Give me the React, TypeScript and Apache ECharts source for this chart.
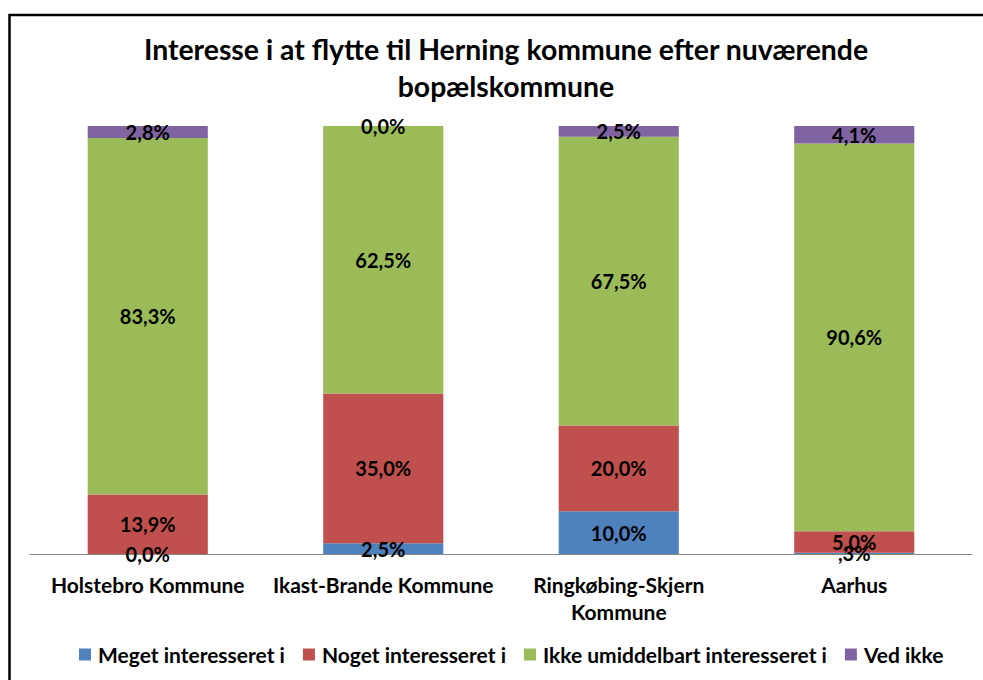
import React, { useEffect, useRef } from "react";
import * as echarts from "echarts";

const categories = [
  "Holstebro Kommune",
  "Ikast-Brande Kommune",
  "Ringkøbing-Skjern\nKommune",
  "Aarhus",
];
const seriesNames = [
  "Meget interesseret i",
  "Noget interesseret i",
  "Ikke umiddelbart interesseret i",
  "Ved ikke",
];
const meget = [0.0, 2.5, 10.0, 0.3];
const noget = [13.9, 35.0, 20.0, 5.0];
const ikke = [83.3, 62.5, 67.5, 90.6];
const vedIkke = [2.8, 0.0, 2.5, 4.1];
const colors = ["#4F81BD", "#C0504D", "#9BBB59", "#8064A2"];

const FONT = "Lato, 'Open Sans', sans-serif";

function fmt(v: number): string {
  let s = v.toFixed(1).replace(".", ",");
  if (v > 0 && v < 1) s = s.replace(/^0/, "");
  return s + "%";
}

export default function App() {
  const ref = useRef<HTMLDivElement>(null);
  useEffect(() => {
    if (!ref.current) return;
    const chart = echarts.init(ref.current, null, { renderer: "svg" });
    const data = [meget, noget, ikke, vedIkke];
    chart.setOption({
      animation: false,
      backgroundColor: "#fff",
      title: {
        text: "Interesse i at flytte til Herning kommune efter nuværende\nbopælskommune",
        left: 501,
        textAlign: "center",
        top: 25,
        textStyle: {
          fontFamily: FONT,
          fontWeight: "bold",
          fontSize: 28.4,
          lineHeight: 37,
          color: "#000",
        },
      },
      graphic: [
        {
          type: "rect",
          shape: { x: 9.5, y: 15, width: 1000, height: 700 },
          style: { fill: "none", stroke: "#000", lineWidth: 2.5 },
          silent: true,
        },
      ],
      legend: {
        bottom: 10,
        left: 74,
        icon: "rect",
        itemWidth: 12,
        itemHeight: 12,
        itemGap: 18,
        textStyle: {
          fontFamily: FONT,
          fontWeight: "bold",
          fontSize: 21,
          color: "#000",
          padding: [0, 0, 0, 2],
        },
        data: seriesNames,
      },
      grid: { left: 30, right: 11, top: 126, bottom: 126, containLabel: false },
      xAxis: {
        type: "category",
        data: categories,
        axisLine: { lineStyle: { color: "#868686", width: 1 } },
        axisTick: { show: false },
        axisLabel: {
          fontFamily: FONT,
          fontWeight: "bold",
          fontSize: 21,
          color: "#000",
          margin: 17,
          lineHeight: 27,
          interval: 0,
        },
      },
      yAxis: {
        type: "value",
        min: 0,
        max: 100,
        show: false,
        splitLine: { show: false },
      },
      series: seriesNames.map((name, i) => ({
        name,
        type: "bar",
        stack: "total",
        barWidth: "51%",
        data: data[i],
        itemStyle: { color: colors[i] },
        label: {
          show: true,
          position: "inside",
          fontFamily: FONT,
          fontWeight: "bold",
          fontSize: 20,
          color: "#000",
          formatter: (p: any) => fmt(p.value),
        },
      })),
    });
    return () => chart.dispose();
  }, []);
  return (
    <div
      ref={ref}
      style={{ position: "fixed", left: 0, top: 0, width: 983, height: 680 }}
    />
  );
}
